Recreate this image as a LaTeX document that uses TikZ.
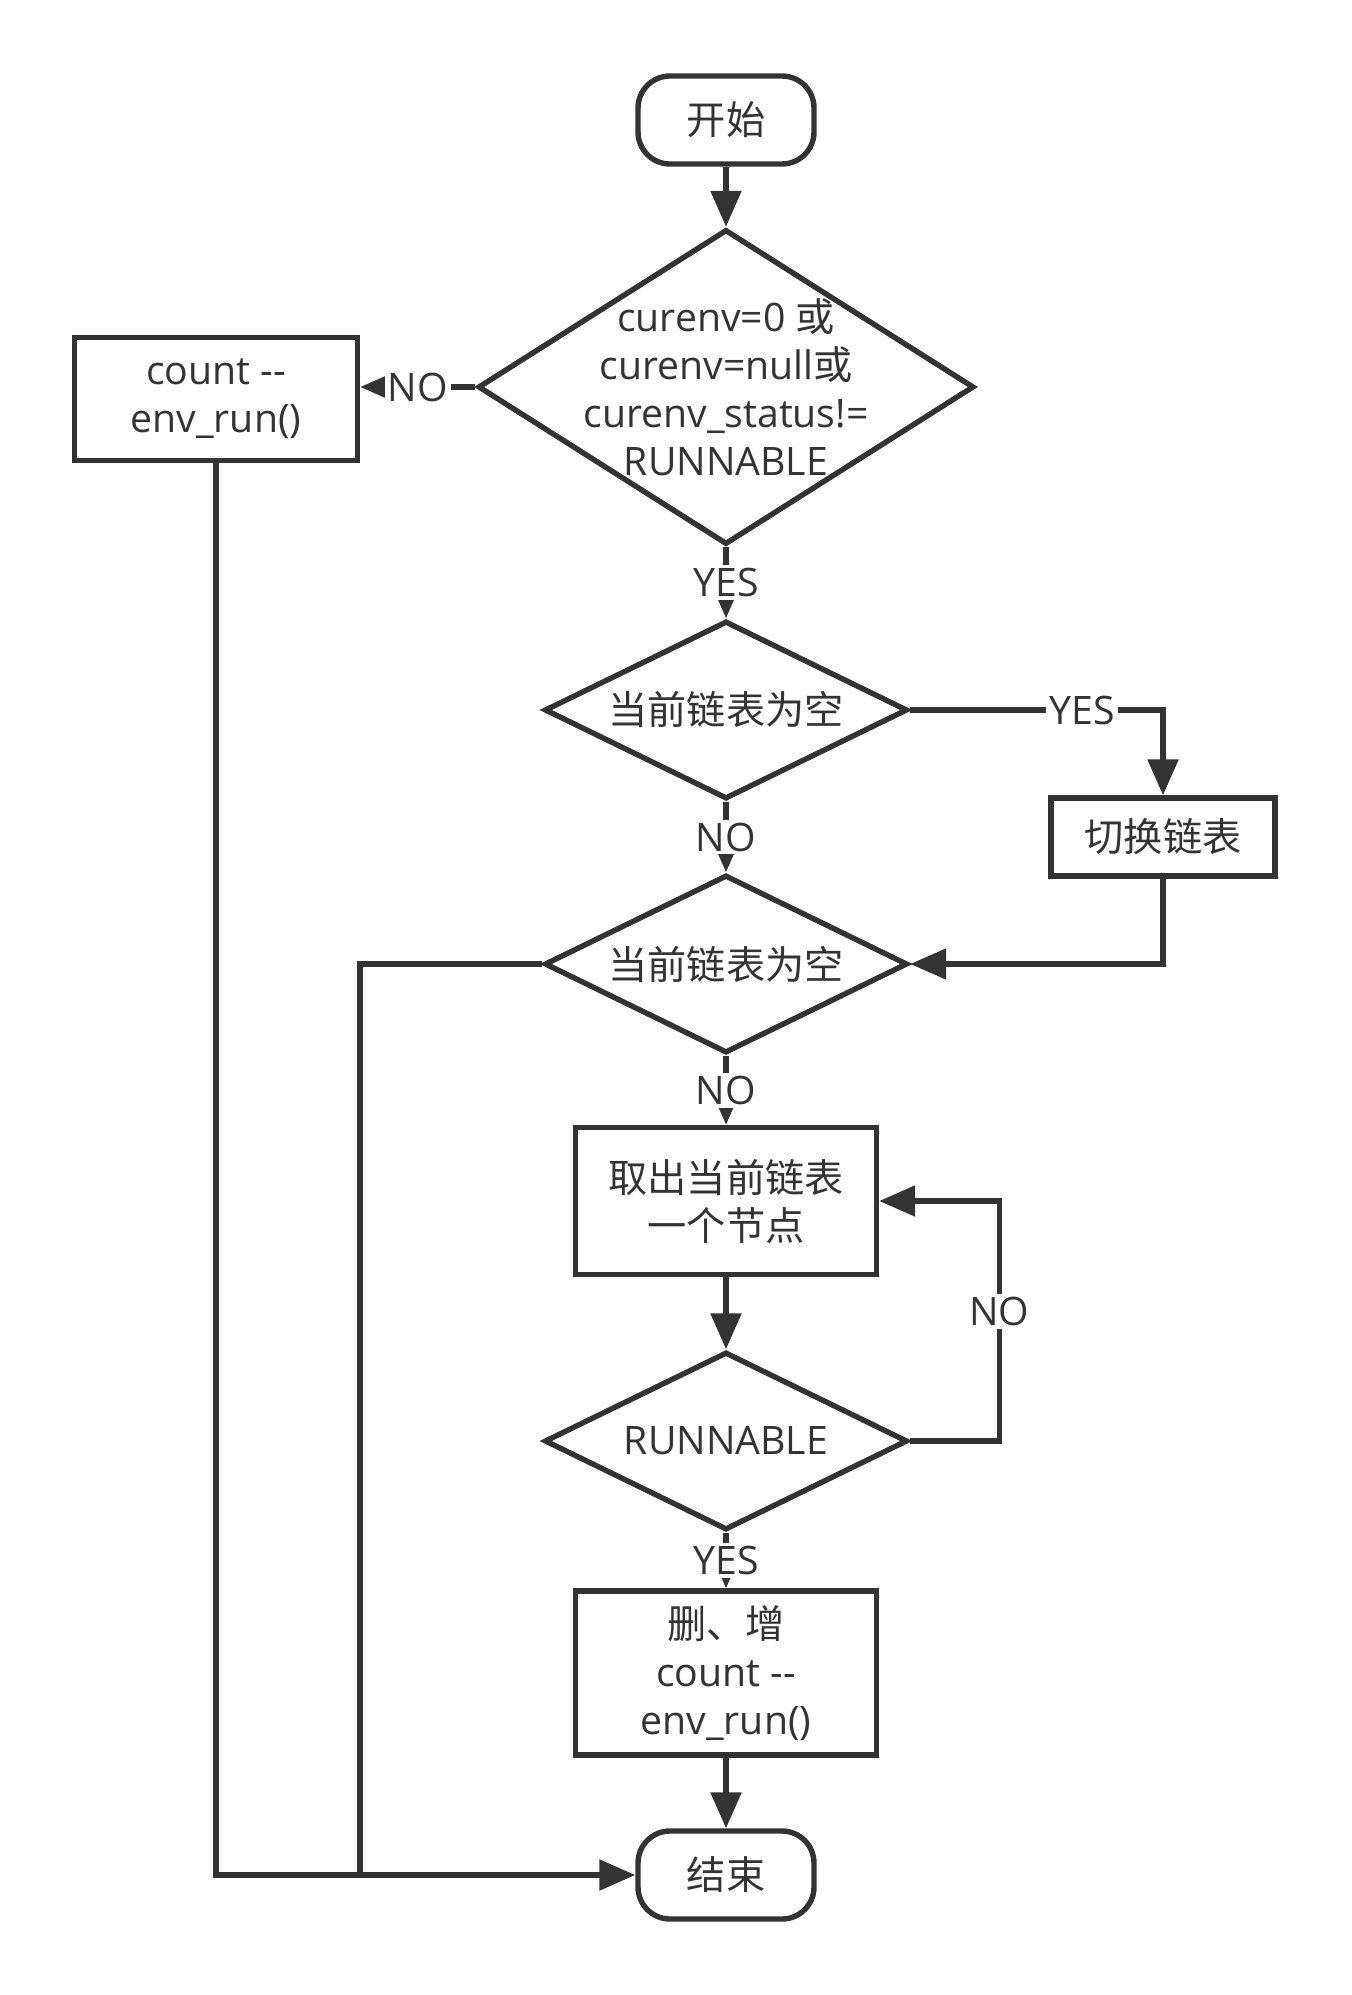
\documentclass[tikz,border=0pt]{standalone}
\usepackage{fontspec}
\setmainfont{Open Sans}
\newfontfamily\cjk{Noto Sans CJK SC}
\usepackage{tikz}
\usetikzlibrary{arrows.meta,positioning,shapes.geometric}
\definecolor{cinzaescuro}{RGB}{51,51,51}
\newcommand{\tamanho}{\fontsize{19.6pt}{24pt}\selectfont}
\newcommand{\traco}{\mbox{-}\mbox{-}}
\tikzset{
  terminal/.style={rectangle,rounded corners=16pt,draw=cinzaescuro,line width=2.7pt,
    minimum width=88pt,minimum height=44pt,text=cinzaescuro,font=\tamanho\cjk},
  processo/.style={rectangle,draw=cinzaescuro,line width=2.7pt,align=center,
    text=cinzaescuro,font=\tamanho,inner sep=2pt},
  decisao/.style={diamond,draw=cinzaescuro,line width=2.7pt,align=center,aspect=2,
    minimum width=181.5pt,minimum height=89pt,inner sep=0pt,text=cinzaescuro,font=\tamanho},
  seta/.style={-{Triangle[length=18pt,width=15pt]},line width=2.7pt,draw=cinzaescuro},
  linha/.style={line width=2.7pt,draw=cinzaescuro}
}

\begin{document}
\begin{tikzpicture}[x=0.5pt,y=-0.5pt,
  rotulo/.style={fill=white,inner sep=1.5pt,text=cinzaescuro,font=\tamanho}]
\path[fill=white,use as bounding box] (0,0) rectangle (1351,1995);
\node[terminal] (inicio) at (726,120) {开始};
\node[decisao,minimum width=248pt,minimum height=157.5pt,
  label={[text=cinzaescuro,font=\tamanho,align=center]center:{curenv=0 {\cjk 或}\\curenv=null{\cjk 或}\\curenv\_status!=\\RUNNABLE}}] (cond) at (726,387) {};
\node[processo,minimum width=141.5pt,minimum height=61.5pt] (contagem) at (216,399) {count \traco\\env\_run()};
\node[decisao,font=\tamanho\cjk] (vazio1) at (726,710) {当前链表为空};
\node[processo,minimum width=112pt,minimum height=39pt,font=\tamanho\cjk] (troca) at (1163,837) {切换链表};
\node[decisao,font=\tamanho\cjk] (vazio2) at (726,964) {当前链表为空};
\node[processo,minimum width=150.5pt,minimum height=73.5pt,font=\tamanho\cjk] (tira) at (726,1201) {取出当前链表\\一个节点};
\node[decisao] (estado) at (726,1441) {RUNNABLE};
\node[processo,minimum width=150.5pt,minimum height=82pt] (apaga) at (726,1673) {{\cjk 删、增}\\count \traco\\env\_run()};
\node[terminal] (fim) at (726,1875) {结束};
\coordinate (junta) at (360,1875);

\draw[seta] (inicio) -- (cond);
\draw[seta] (cond.west) -- node[rotulo]{NO} (cond.west -| contagem.east);
\draw[seta] (cond) -- node[rotulo]{YES} (vazio1);
\draw[seta] (vazio1.east) -| node[rotulo,pos=0.34]{YES} (troca.north);
\draw[seta] (vazio1) -- node[rotulo]{NO} (vazio2);
\draw[seta] (troca.south) |- (vazio2.east);
\draw[seta] (vazio2) -- node[rotulo]{NO} (tira);
\draw[linha] (vazio2.west) -| (junta);
\draw[seta] (tira) -- (estado);
\draw[seta] (estado.east) -- ++(89,0) |- node[rotulo,pos=0.27]{NO} (tira.east);
\draw[seta] (estado) -- node[rotulo]{YES} (apaga);
\draw[seta] (apaga) -- (fim);
\draw[seta] (contagem.south) |- (fim.west);
\end{tikzpicture}
\end{document}
